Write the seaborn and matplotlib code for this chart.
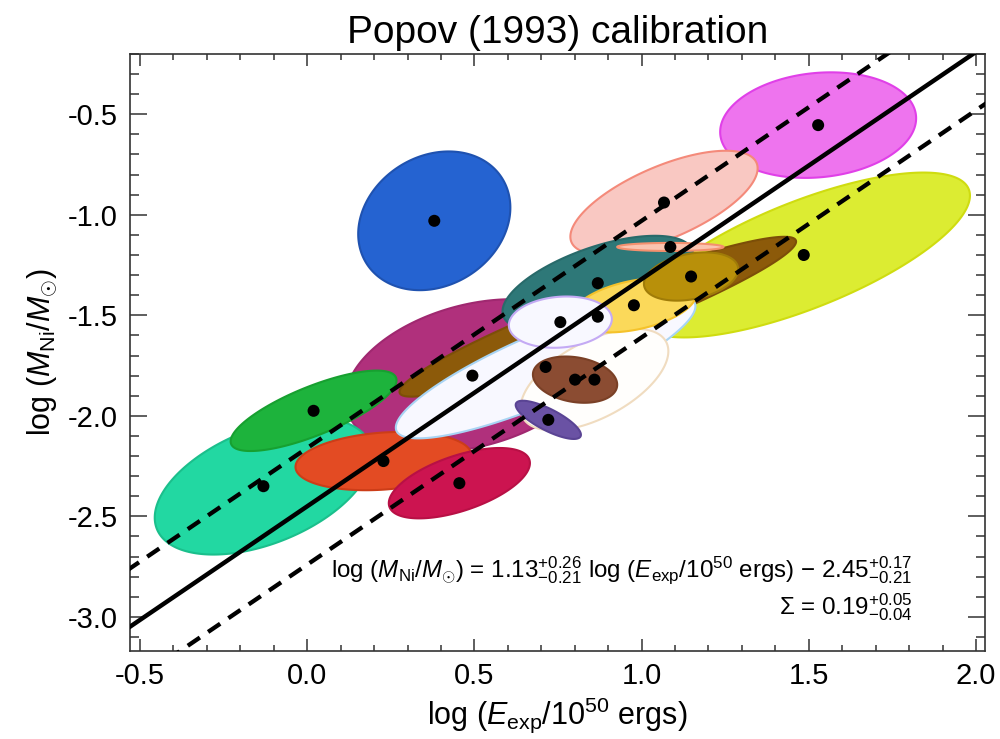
import numpy as np
import matplotlib
matplotlib.use('Agg')
import matplotlib.pyplot as plt
from matplotlib.ticker import MultipleLocator, FormatStrFormatter
import seaborn as sns

# one error ellipse per SN, centred on its point (log E_exp, log M_Ni)
# order = drawing order, back to front
cen_x = [1.485, 1.528, 1.067, 0.380, 0.494, -0.131, 0.019, 0.228, 0.455,
         0.869, 0.713, 0.859, 0.801, 0.721, 0.869, 0.977, 1.148, 1.086, 0.757]
cen_y = [-1.20, -0.554, -0.939, -1.03, -1.80, -2.35, -1.975, -2.225, -2.335,
         -1.507, -1.757, -1.82, -1.82, -2.02, -1.34, -1.45, -1.307, -1.16, -1.534]
# half extent in x, half extent in y, correlation
half_x = [0.497, 0.293, 0.28, 0.2275, 0.38, 0.325, 0.248, 0.263, 0.211,
          0.593, 0.448, 0.221, 0.126, 0.0975, 0.285, 0.186, 0.141, 0.159, 0.154]
half_y = [0.41, 0.2625, 0.2575, 0.345, 0.38, 0.34, 0.20, 0.145, 0.175,
          0.3975, 0.355, 0.2525, 0.115, 0.095, 0.2355, 0.135, 0.12, 0.02, 0.1275]
corr = [0.72, 0.13, 0.66, 0.19, 0.31, 0.46, 0.76, 0.2, 0.57,
        0.94, 0.85, 0.56, -0.22, -0.78, 0.6, 0.4, 0.3, 0.0, 0.12]

face_cols = ['#dcec32', '#ee74ee', '#f9c8c2', '#2563d1', '#b0307c', '#22d8a2',
             '#1db33c', '#e34b23', '#cc1450', '#8c5a0a', '#f8f8ff', '#fffefc',
             '#8b4c32', '#6a52a4', '#2e7878', '#fbd95a', '#b8900a', '#fbc4b0',
             '#f8f8ff']
edge_cols = ['#cfdc10', '#e040e8', '#f48a7a', '#1f52b0', '#a02870', '#1bbf8c',
             '#17a030', '#cc3d18', '#b81045', '#7c4e08', '#a8d4f4', '#f0dcc0',
             '#7a4026', '#5a4494', '#286a6a', '#f5c22a', '#a07c08', '#f4906e',
             '#c4aaf4']

# fit: log M = a log E + b, dashed lines at +/- scatter
slope = 1.13
icept = -2.45
offset = 0.29

sns.set_theme(style='ticks')
plt.rcParams['font.family'] = ['Liberation Sans', 'DejaVu Sans']
plt.rcParams['mathtext.fontset'] = 'custom'
plt.rcParams['mathtext.rm'] = 'Liberation Sans'
plt.rcParams['mathtext.it'] = 'Liberation Sans:italic'
plt.rcParams['mathtext.bf'] = 'Liberation Sans:bold'
plt.rcParams['axes.unicode_minus'] = False
plt.rcParams['text.color'] = 'black'
plt.rcParams['axes.labelcolor'] = 'black'

fig = plt.figure(figsize=(10, 7.39), dpi=100)
ax = fig.add_axes([0.13, 0.119, 0.855, 0.808])

t = np.linspace(0, 2 * np.pi, 300)
for i in range(len(cen_x)):
    r = corr[i]
    ex = cen_x[i] + half_x[i] * np.cos(t)
    ey = cen_y[i] + half_y[i] * (r * np.cos(t) + np.sqrt(1 - r ** 2) * np.sin(t))
    ax.fill(ex, ey, facecolor=face_cols[i], edgecolor=edge_cols[i], lw=1.5, zorder=2)

xl = np.array([-0.6, 2.1])
sns.lineplot(x=xl, y=slope * xl + icept, color='black', lw=3.2, ax=ax, zorder=3)
sns.lineplot(x=xl, y=slope * xl + icept + offset, color='black', lw=3.1,
             linestyle=(0, (3.4, 2.3)), ax=ax, zorder=3)
sns.lineplot(x=xl, y=slope * xl + icept - offset, color='black', lw=3.1,
             linestyle=(0, (3.4, 2.3)), ax=ax, zorder=3)

sns.scatterplot(x=cen_x, y=cen_y, color='black', s=75, edgecolor='none', ax=ax, zorder=4)

ax.set_xlim(-0.53, 2.027)
ax.set_ylim(-3.17, -0.2)
ax.xaxis.set_major_locator(MultipleLocator(0.5))
ax.xaxis.set_minor_locator(MultipleLocator(0.1))
ax.yaxis.set_major_locator(MultipleLocator(0.5))
ax.yaxis.set_minor_locator(MultipleLocator(0.1))
ax.xaxis.set_major_formatter(FormatStrFormatter('%.1f'))
ax.yaxis.set_major_formatter(FormatStrFormatter('%.1f'))
ax.tick_params(which='both', direction='in', top=True, right=True,
               colors='#333333', labelcolor='black', width=1.1, labelsize=21)
ax.tick_params(axis='x', which='major', length=8.6, pad=8)
ax.tick_params(axis='x', which='minor', length=4.3)
ax.tick_params(axis='y', which='major', length=12.3, pad=9)
ax.tick_params(axis='y', which='minor', length=6.2)
for sp in ax.spines.values():
    sp.set_color('#333333')
    sp.set_linewidth(1.2)

ax.set_title('Popov (1993) calibration', fontsize=28, pad=8)
ax.set_xlabel(r'log ($E_{\rm exp}$/10$^{50}$ ergs)', fontsize=22, labelpad=4)
ax.set_ylabel(r'log ($M_{\rm Ni}$/$M_{\odot}$)', fontsize=22, labelpad=6)

ax.text(0.915, 0.136,
        r'log ($M_{\rm Ni}$/$M_{\odot}$) = 1.13$^{+0.26}_{-0.21}$ log ($E_{\rm exp}$/10$^{50}$ ergs) $-$ 2.45$^{+0.17}_{-0.21}$',
        transform=ax.transAxes, ha='right', va='center', fontsize=17.4, zorder=5)
ax.text(0.915, 0.074, r'$\Sigma$ = 0.19$^{+0.05}_{-0.04}$',
        transform=ax.transAxes, ha='right', va='center', fontsize=17.4, zorder=5)

fig.savefig('out.png', dpi=100)
